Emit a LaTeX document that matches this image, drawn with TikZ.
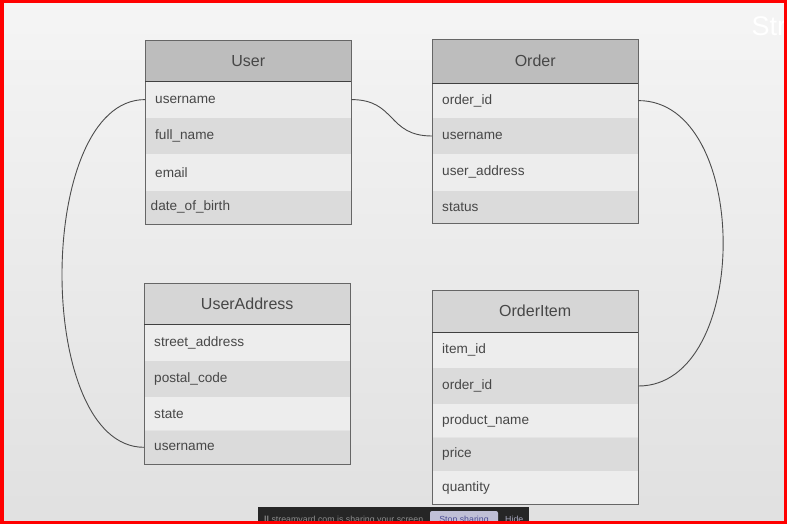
\documentclass[tikz,border=0pt]{standalone}
\usepackage{fontspec}
\setmainfont{Liberation Sans}
\usepackage{tikz}
\usetikzlibrary{positioning}

\begin{document}
\begin{tikzpicture}[
x=1pt, y=-1pt,
hdr/.style={
    draw=black!60,
    anchor=north west,
    minimum width=206pt,
    inner sep=0pt,
    text=black!72,
    font=\fontsize{16}{18}\selectfont
},
row/.style={
    anchor=north,
    text width=186pt,
    inner xsep=10pt,
    inner ysep=0pt,
    minimum height=#1,
    text=black!72,
    font=\fontsize{13.6}{16}\selectfont
},
row/.default=36pt,
lt/.style={fill=black!7},
dk/.style={fill=black!14},
link/.style={draw=black!70, line width=0.9pt},
bar/.style={anchor=north, inner sep=0pt, font=\fontsize{8.8}{10}\selectfont}
]

\useasboundingbox (0,0) rectangle (787,524);
\shade[top color=black!4, bottom color=black!12] (0,0) rectangle (787,524);
\node[white, font=\fontsize{27}{30}\selectfont, anchor=west] (brand) at (748,26) {Str};

% User
\node[hdr, fill=black!26, minimum height=41pt] (user) at (145,40) {User};
\node[row, lt, below=0pt of user] (user-username) {username};
\node[row, dk, below=0pt of user-username] (user-fullname) {full\_name};
\node[row, lt, below=0pt of user-fullname] (user-email) {email};
\node[row=33pt, dk, below=0pt of user-email, inner xsep=5.5pt, text width=195pt] (user-dob) {date\_of\_birth};

% Order
\node[hdr, fill=black!26, minimum height=44pt] (order) at (432,39) {Order};
\node[row=34pt, lt, below=0pt of order] (order-orderid) {order\_id};
\node[row, dk, below=0pt of order-orderid] (order-username) {username};
\node[row, lt, below=0pt of order-username] (order-address) {user\_address};
\node[row=32pt, dk, below=0pt of order-address] (order-status) {status};

% UserAddress
\node[hdr, fill=black!16, minimum height=41pt] (addr) at (144,283) {UserAddress};
\node[row, lt, below=0pt of addr] (addr-street) {street\_address};
\node[row, dk, below=0pt of addr-street] (addr-postal) {postal\_code};
\node[row=33pt, lt, below=0pt of addr-postal] (addr-state) {state};
\node[row=33pt, dk, below=0pt of addr-state] (addr-username) {username};

% OrderItem
\node[hdr, fill=black!16, minimum height=42pt] (item) at (432,290) {OrderItem};
\node[row=35pt, lt, below=0pt of item] (item-itemid) {item\_id};
\node[row, dk, below=0pt of item-itemid] (item-orderid) {order\_id};
\node[row=33pt, lt, below=0pt of item-orderid] (item-product) {product\_name};
\node[row=33pt, dk, below=0pt of item-product] (item-price) {price};
\node[row=33pt, lt, below=0pt of item-price] (item-quantity) {quantity};

\draw[black!60] (user.north west) rectangle (user-dob.south east);
\draw[black!60] (order.north west) rectangle (order-status.south east);
\draw[black!60] (addr.north west) rectangle (addr-username.south east);
\draw[black!60] (item.north west) rectangle (item-quantity.south east);
\draw[black!75, line width=1.2pt] (user.south west) -- (user.south east);
\draw[black!75, line width=1.2pt] (order.south west) -- (order.south east);
\draw[black!75, line width=1.2pt] (addr.south west) -- (addr.south east);
\draw[black!75, line width=1.2pt] (item.south west) -- (item.south east);

\draw[link] (user-username.west) .. controls +(-110,0) and +(-110,0) .. (addr-username.west);
\draw[link] (user-username.east) .. controls +(45,0) and +(-45,0) .. (order-username.west);
\draw[link] (order-orderid.east) .. controls +(113,0) and +(113,0) .. (item-orderid.east);

% screen sharing bar
\fill[black!85] (258,507) rectangle (529,524);
\fill[blue!35!black!25!white, rounded corners=2pt] (430,511) rectangle (498,530);
\node[bar, black!45, anchor=north west] (share) at (264,516) {\textbf{||}\ streamyard.com is sharing your screen};
\node[bar, blue!40!black!70] (stop) at (464,516) {Stop sharing};
\node[bar, blue!25!black!35, anchor=north west] (hide) at (505,516) {Hide};

\draw[red, line width=3.5pt] (1.75,1.75) rectangle (785.25,522.25);
\end{tikzpicture}
\end{document}
